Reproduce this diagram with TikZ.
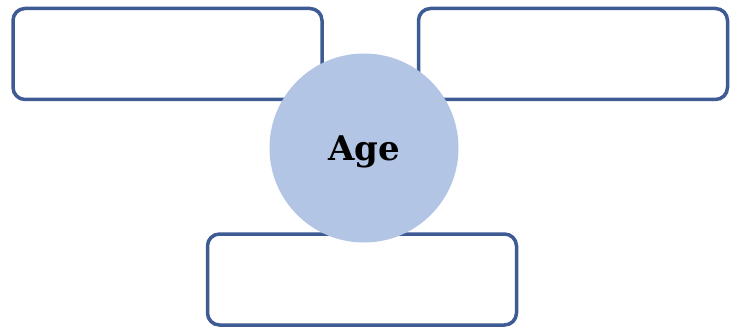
\documentclass[tikz,border=0pt]{standalone}
\usepackage{fontspec}
\newfontfamily\hubfont{DejaVu Serif}
\definecolor{boxline}{HTML}{3F5B93}
\definecolor{circfill}{HTML}{B2C5E5}
\begin{document}
\begin{tikzpicture}[x=1pt,y=1pt,
  slot/.style={draw=boxline, line width=3.5pt, rounded corners=12pt, fill=white,
    minimum width=309pt, minimum height=91pt, inner sep=0pt},
  hub/.style={circle, fill=circfill, minimum size=189pt, inner sep=0pt,
    text depth=0pt, font=\hubfont\bfseries\fontsize{34}{40}\selectfont}]
\useasboundingbox (0,0) rectangle (739,327);
\node[slot] (left) at (167.5,273) {};
\node[slot] (right) at (573,273) {};
\node[slot] (bottom) at (362,47.5) {};
\node[hub] (age) at (364,179) {Age};
\end{tikzpicture}
\end{document}
